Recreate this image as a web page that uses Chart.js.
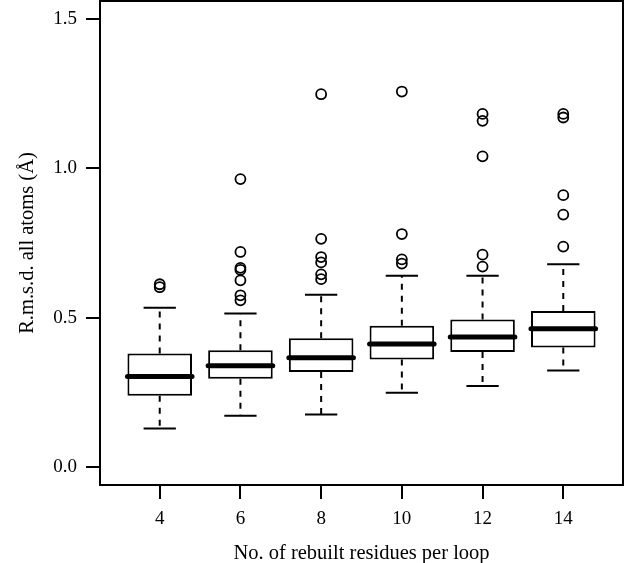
<!DOCTYPE html>
<html>
<head>
<meta charset="utf-8">
<script src="https://cdn.jsdelivr.net/npm/chart.js@4"></script>
<style>
  html, body { margin:0; padding:0; background:#fff; }
  #wrap { width:640px; height:563px; }
</style>
</head>
<body>
<div id="wrap"><canvas id="c" width="640" height="563"></canvas></div>
<script>
/* ---------- data ---------- */
const categories  = ["4", "6", "8", "10", "12", "14"];
const xPos        = [1, 2, 3, 4, 5, 6];
const q1          = [0.239, 0.296, 0.318, 0.360, 0.385, 0.400];
const medians     = [0.303, 0.339, 0.366, 0.412, 0.435, 0.463];
const q3          = [0.380, 0.391, 0.431, 0.473, 0.494, 0.522];
const whiskerLow  = [0.129, 0.172, 0.176, 0.249, 0.271, 0.323];
const whiskerHigh = [0.533, 0.514, 0.577, 0.640, 0.640, 0.679];
const outliers    = [
  [0.612, 0.602],
  [0.964, 0.720, 0.667, 0.660, 0.625, 0.575, 0.558],
  [1.248, 0.764, 0.703, 0.685, 0.645, 0.629],
  [1.257, 0.780, 0.695, 0.681],
  [1.182, 1.159, 1.040, 0.711, 0.671],
  [1.182, 1.170, 0.910, 0.845, 0.738]
];
const yTicks = [0, 0.5, 1.0, 1.5];

const FONT = "'Liberation Serif', 'Times New Roman', serif";

/* ---------- whiskers, caps, medians, frame ---------- */
const boxExtras = {
  id: "boxExtras",
  afterDatasetsDraw(chart) {
    const { ctx, scales: { x, y }, chartArea: a } = chart;
    ctx.save();
    ctx.strokeStyle = "#000";
    xPos.forEach((p, i) => {
      const cx   = x.getPixelForValue(p);
      const half = (x.getPixelForValue(p + 0.2) - cx);
      // dashed whiskers
      ctx.lineWidth = 2;
      ctx.setLineDash([6, 6]);
      ctx.beginPath();
      ctx.moveTo(cx, y.getPixelForValue(q3[i]));
      ctx.lineTo(cx, y.getPixelForValue(whiskerHigh[i]));
      ctx.moveTo(cx, y.getPixelForValue(q1[i]));
      ctx.lineTo(cx, y.getPixelForValue(whiskerLow[i]));
      ctx.stroke();
      ctx.setLineDash([]);
      // caps
      ctx.beginPath();
      [whiskerHigh[i], whiskerLow[i]].forEach(v => {
        const py = y.getPixelForValue(v);
        ctx.moveTo(cx - half, py);
        ctx.lineTo(cx + half, py);
      });
      ctx.stroke();
      // median
      const bh = x.getPixelForValue(p + 0.4) - cx;
      const my = y.getPixelForValue(medians[i]);
      ctx.lineWidth = 5;
      ctx.lineCap = "round";
      ctx.beginPath();
      ctx.moveTo(cx - bh, my);
      ctx.lineTo(cx + bh, my);
      ctx.stroke();
      ctx.lineCap = "butt";
    });
    // plot frame
    ctx.lineWidth = 2;
    ctx.strokeRect(a.left, a.top, a.right - a.left, a.bottom - a.top);
    ctx.restore();
  }
};

const boxData = xPos.map((p, i) => ({ x: p, y: [q1[i], q3[i]] }));
const outlierData = [];
outliers.forEach((arr, i) => arr.forEach(v => outlierData.push({ x: xPos[i], y: v })));

new Chart(document.getElementById("c"), {
  type: "bar",
  data: {
    datasets: [
      {
        type: "bar",
        data: boxData,
        backgroundColor: "#fff",
        borderColor: "#000",
        borderWidth: 2,
        borderSkipped: false,
        barPercentage: 0.8,
        categoryPercentage: 1.0
      },
      {
        type: "scatter",
        data: outlierData,
        pointStyle: "circle",
        pointRadius: 5,
        pointBackgroundColor: "rgba(0,0,0,0)",
        pointBorderColor: "#000",
        pointBorderWidth: 1.8
      }
    ]
  },
  options: {
    responsive: false,
    animation: false,
    layout: { autoPadding: false, padding: { top: 1, right: 17, left: 0, bottom: 0 } },
    plugins: { legend: { display: false }, tooltip: { enabled: false } },
    scales: {
      x: {
        type: "linear",
        offset: false,
        min: 0.26, max: 6.74,
        afterBuildTicks: s => { s.ticks = xPos.map(v => ({ value: v })); },
        afterFit: s => { s.height = 78; s.paddingLeft = 0; s.paddingRight = 0; },
        ticks: {
          color: "#000",
          padding: 9,
          maxRotation: 0,
          font: { family: FONT, size: 19 },
          callback: (v) => categories[xPos.indexOf(v)]
        },
        grid: { offset: false, drawOnChartArea: false, drawTicks: true, tickLength: 14, color: "#000", lineWidth: 2 },
        border: { display: false },
        title: {
          display: true,
          text: "No. of rebuilt residues per loop",
          color: "#000",
          font: { family: FONT, size: 20.5 },
          padding: { top: 4, bottom: -3 }
        }
      },
      y: {
        min: -0.06, max: 1.56,
        afterBuildTicks: s => { s.ticks = yTicks.map(v => ({ value: v })); },
        afterFit: s => { s.width = 100; s.paddingTop = 0; s.paddingBottom = 0; },
        ticks: {
          color: "#000",
          padding: 9,
          font: { family: FONT, size: 19 },
          callback: v => v.toFixed(1)
        },
        grid: { drawOnChartArea: false, drawTicks: true, tickLength: 14, color: "#000", lineWidth: 2 },
        border: { display: false },
        title: {
          display: true,
          text: "R.m.s.d. all atoms (Å)",
          color: "#000",
          font: { family: FONT, size: 20.5 },
          padding: { top: 15, bottom: 0 }
        }
      }
    }
  },
  plugins: [boxExtras]
});
</script>
</body>
</html>
